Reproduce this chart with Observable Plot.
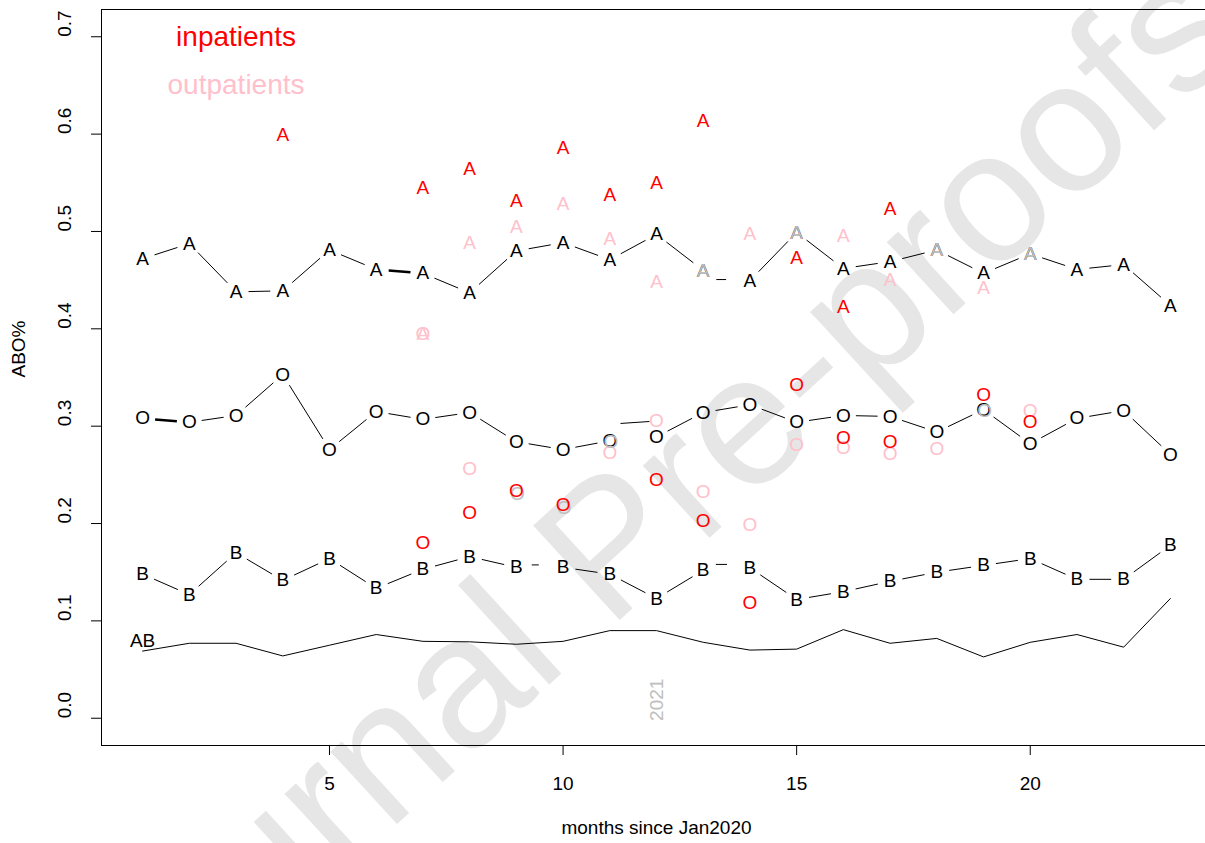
<!DOCTYPE html>
<html><head><meta charset="utf-8">
<script src="https://cdn.jsdelivr.net/npm/d3@7"></script>
<script src="https://cdn.jsdelivr.net/npm/@observablehq/plot@0.6"></script>
<style>body{margin:0;background:#fff} svg{display:block}</style>
</head><body><div id="chart"></div>
<script>
// ---- data ----
const months = d3.range(1, 24);
const allA = [0.472,0.4875,0.438,0.439,0.481,0.461,0.457,0.437,0.480,0.4885,0.471,0.497,0.460,0.4495,0.499,0.462,0.469,0.481,0.457,0.477,0.461,0.466,0.424];
const allO = [0.308,0.304,0.311,0.353,0.276,0.315,0.307,0.314,0.284,0.276,0.285,0.289,0.314,0.322,0.304,0.311,0.310,0.294,0.317,0.282,0.308,0.316,0.271];
const allB = [0.148,0.127,0.170,0.1416,0.164,0.1334,0.153,0.166,0.155,0.155,0.148,0.123,0.152,0.1545,0.122,0.130,0.1406,0.150,0.157,0.164,0.1427,0.1427,0.1776];
const allAB = [0.069,0.077,0.077,0.064,0.075,0.086,0.079,0.0785,0.076,0.079,0.090,0.090,0.078,0.070,0.071,0.091,0.077,0.082,0.063,0.078,0.086,0.073,0.123];
const inA  = [null,null,null,0.599,null,null,0.545,0.5645,0.531,0.586,0.538,0.550,0.614,null,0.473,0.422,0.5235,null,null,null,null,null,null];
const outA = [null,null,null,null,null,null,0.395,0.4885,0.505,0.5285,0.4925,0.4485,null,0.497,null,0.495,0.4505,null,0.442,null,null,null,null];
const inO  = [null,null,null,null,null,null,0.1796,0.211,0.233,0.219,null,0.245,0.203,0.118,0.342,0.288,0.284,null,0.3325,0.304,null,null,null];
const outO = [null,null,null,null,null,null,0.395,0.2566,null,null,0.273,0.305,0.232,0.199,0.281,0.278,0.272,0.277,null,0.316,null,null,null];
const greyA = [null,null,null,null,null,null,null,null,null,null,null,null,0.460,null,0.499,null,null,0.481,null,0.477,null,null,null];
const greyO = [null,null,null,null,null,null,null,null,0.2315,0.2175,0.285,null,null,null,null,null,null,null,0.317,null,null,null,null];
// segment widths between consecutive months (0 = no segment)
const segA = [1,1,1,1,1,2.6,1,1,1,1,1,1,0,1,1,1,1,1,1,1,1,1];
const segO = [2.6,1,1,1,1,1,1,1,1,1,0,1,1,1,1,1,1,1,1,1,1,1];
const segB = [1,1,1,1,1,1,1,1,0,1,1,1,0,1,1,1,1,1,1,1,1,1];
// short stray segments: [month1, value1, month2, value2]
const stubs = [[13.28,0.4506,13.49,0.4506],[11.23,0.3028,11.85,0.3048],[9.33,0.1575,9.48,0.1575],[13.27,0.158,13.51,0.158]];
const xTicks = [5, 10, 15, 20];
const yTicks = [0, 0.1, 0.2, 0.3, 0.4, 0.5, 0.6, 0.7];
const legend = [{m: 3, v: 0.70, t: "inpatients", c: "red"}, {m: 3, v: 0.65, t: "outpatients", c: "pink"}];

// ---- layout ----
const W = 1205, H = 843, ml = 101, mt = 9, mr = -6, mb = 98;
const xDomain = [0.12, 23.88], yDomain = [-0.028, 0.728];
const FONT = "Liberation Sans, Arial, Helvetica, sans-serif";
const FS = 19, GAP = 12.5;
const xs = Plot.scale({x: {domain: xDomain, range: [ml, W - mr]}});
const ys = Plot.scale({y: {domain: yDomain, range: [H - mb, mt]}});

function pts(vals, t) {
  return months.map((m, i) => ({m, v: vals[i], t})).filter(d => d.v != null);
}
function trimmed(vals, widths) {
  const out = [];
  for (let i = 0; i < vals.length - 1; i++) {
    if (!widths[i]) continue;
    const px1 = xs.apply(months[i]), py1 = ys.apply(vals[i]);
    const px2 = xs.apply(months[i + 1]), py2 = ys.apply(vals[i + 1]);
    const dx = px2 - px1, dy = py2 - py1, d = Math.hypot(dx, dy);
    if (d <= 2 * GAP) continue;
    const ux = dx / d, uy = dy / d;
    out.push({x1: xs.invert(px1 + ux * GAP), y1: ys.invert(py1 + uy * GAP),
              x2: xs.invert(px2 - ux * GAP), y2: ys.invert(py2 - uy * GAP), w: widths[i]});
  }
  return out;
}
const segs = [...trimmed(allA, segA), ...trimmed(allO, segO), ...trimmed(allB, segB)];
const stubRows = stubs.map(s => ({x1: s[0], y1: s[1], x2: s[2], y2: s[3]}));
const letters = (data, fill, extra = {}) => Plot.text(data, {x: "m", y: "v", text: "t", fill, fontSize: FS, ...extra});

const chart = Plot.plot({
  width: W, height: H, marginLeft: ml, marginTop: mt, marginRight: mr, marginBottom: mb,
  x: {domain: xDomain}, y: {domain: yDomain},
  style: {fontFamily: FONT, background: "white", color: "black"},
  marks: [
    Plot.text(["Journal Pre-proofs"], {frameAnchor: "middle", dx: -12, dy: 139, rotate: -42.5, fontSize: 186, fill: "#e6e6e6", fontFamily: FONT}),
    Plot.frame({stroke: "black", strokeWidth: 1}),
    Plot.axisX({ticks: xTicks, tickSize: 10, tickPadding: 21, fontSize: FS, label: null, tickFormat: d => String(d)}),
    Plot.axisY({ticks: yTicks, tickSize: 10, tickFormat: () => "", label: null}),
    Plot.text(yTicks, {y: d => d, text: d => d.toFixed(1), frameAnchor: "left", dx: -37, rotate: -90, fontSize: FS}),
    Plot.text(["ABO%"], {frameAnchor: "left", dx: -83, rotate: -90, fontSize: FS}),
    Plot.text(["months since Jan2020"], {frameAnchor: "bottom", dy: 88, fontSize: FS}),
    Plot.line(months, {x: d => d, y: (d, i) => allAB[i], stroke: "black", strokeWidth: 1}),
    Plot.link(segs, {x1: "x1", y1: "y1", x2: "x2", y2: "y2", stroke: "black", strokeWidth: "w"}),
    Plot.link(stubRows, {x1: "x1", y1: "y1", x2: "x2", y2: "y2", stroke: "black", strokeWidth: 1}),
    letters(pts(allA, "A"), "black"),
    letters(pts(allO, "O"), "black"),
    letters(pts(allB, "B"), "black"),
    Plot.text([{m: 1, v: 0.079, t: "AB"}], {x: "m", y: "v", text: "t", fontSize: FS, fill: "black"}),
    letters(pts(outA, "A"), "pink"),
    letters(pts(outO, "O"), "pink"),
    letters(pts(greyA, "A"), "#bebebe"),
    letters(pts(greyO, "O"), "#bebebe", {dx: 1, dy: 1}),
    letters(pts(inA, "A"), "red"),
    letters(pts(inO, "O"), "red"),
    Plot.text([{m: 12, v: 0.019, t: "2021"}], {x: "m", y: "v", text: "t", rotate: -90, fontSize: FS, fill: "#bebebe"}),
    Plot.text(legend, {x: "m", y: "v", text: "t", fill: "c", fontSize: 28})
  ]
});
document.getElementById("chart").appendChild(chart);
</script>
</body></html>
